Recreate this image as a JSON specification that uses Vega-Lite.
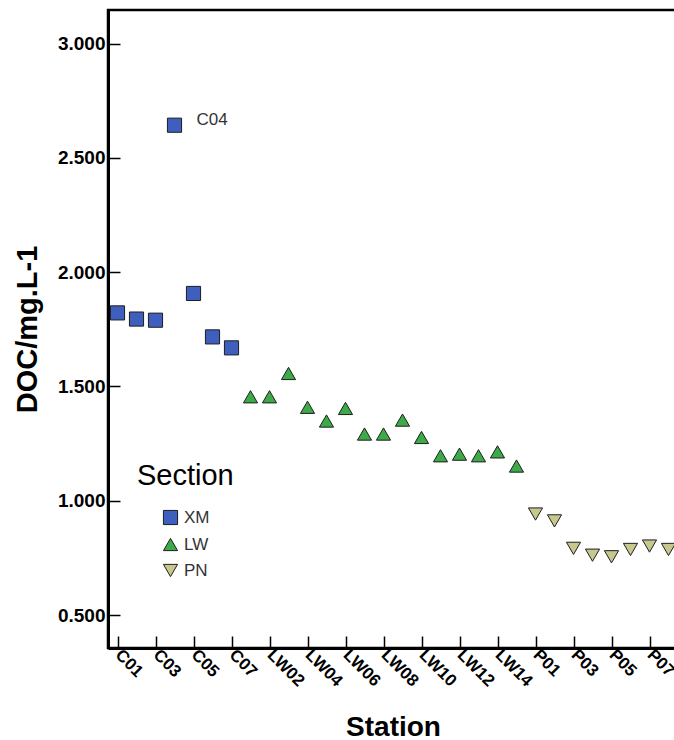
{
  "$schema": "https://vega.github.io/schema/vega-lite/v6.json",
  "width": 570,
  "height": 638,
  "autosize": {"type": "none"},
  "padding": {"left": 108, "top": 10, "right": 0, "bottom": 92},
  "background": "white",
  "config": {
    "font": "Liberation Sans",
    "view": {"stroke": "black", "strokeWidth": 2.5},
    "axis": {"grid": false}
  },
  "data": {
    "values": [
      {"station": "C01", "section": "XM", "doc": 1.822},
      {"station": "C02", "section": "XM", "doc": 1.795},
      {"station": "C03", "section": "XM", "doc": 1.790},
      {"station": "C04", "section": "XM", "doc": 2.643},
      {"station": "C05", "section": "XM", "doc": 1.907},
      {"station": "C06", "section": "XM", "doc": 1.717},
      {"station": "C07", "section": "XM", "doc": 1.669},
      {"station": "LW01", "section": "LW", "doc": 1.455},
      {"station": "LW02", "section": "LW", "doc": 1.455},
      {"station": "LW03", "section": "LW", "doc": 1.557},
      {"station": "LW04", "section": "LW", "doc": 1.409},
      {"station": "LW05", "section": "LW", "doc": 1.349},
      {"station": "LW06", "section": "LW", "doc": 1.404},
      {"station": "LW07", "section": "LW", "doc": 1.292},
      {"station": "LW08", "section": "LW", "doc": 1.292},
      {"station": "LW09", "section": "LW", "doc": 1.353},
      {"station": "LW10", "section": "LW", "doc": 1.277},
      {"station": "LW11", "section": "LW", "doc": 1.197},
      {"station": "LW12", "section": "LW", "doc": 1.204},
      {"station": "LW13", "section": "LW", "doc": 1.197},
      {"station": "LW14", "section": "LW", "doc": 1.214},
      {"station": "LW15", "section": "LW", "doc": 1.152},
      {"station": "P01", "section": "PN", "doc": 0.942},
      {"station": "P02", "section": "PN", "doc": 0.912},
      {"station": "P03", "section": "PN", "doc": 0.792},
      {"station": "P04", "section": "PN", "doc": 0.762},
      {"station": "P05", "section": "PN", "doc": 0.755},
      {"station": "P06", "section": "PN", "doc": 0.787},
      {"station": "P07", "section": "PN", "doc": 0.802},
      {"station": "P08", "section": "PN", "doc": 0.787}
    ]
  },
  "encoding": {
    "x": {
      "field": "station",
      "type": "ordinal",
      "scale": {
        "type": "point",
        "padding": 0.5,
        "domain": ["C01","C02","C03","C04","C05","C06","C07","LW01","LW02","LW03","LW04","LW05","LW06","LW07","LW08","LW09","LW10","LW11","LW12","LW13","LW14","LW15","P01","P02","P03","P04","P05","P06","P07","P08"]
      },
      "axis": {
        "title": "Station",
        "values": ["C01","C03","C05","C07","LW02","LW04","LW06","LW08","LW10","LW12","LW14","P01","P03","P05","P07"],
        "labelAngle": 45,
        "labelAlign": "left",
        "labelBaseline": "middle",
        "labelFontSize": 17,
        "labelFontWeight": "bold",
        "labelColor": "black",
        "labelPadding": 16,
        "tickSize": -12,
        "tickColor": "black",
        "tickWidth": 1.5,
        "domainColor": "black",
        "domainWidth": 3,
        "titleFontSize": 28,
        "titleFontWeight": "bold",
        "titleColor": "black",
        "titleY": 87,
        "titleBaseline": "alphabetic"
      }
    },
    "y": {
      "field": "doc",
      "type": "quantitative",
      "scale": {"domain": [0.356, 3.147], "nice": false, "zero": false},
      "axis": {
        "title": "DOC/mg.L-1",
        "values": [0.5, 1.0, 1.5, 2.0, 2.5, 3.0],
        "format": ".3f",
        "labelFontSize": 19,
        "labelFontWeight": "bold",
        "labelColor": "black",
        "labelPadding": 15,
        "tickSize": -12,
        "tickColor": "black",
        "tickWidth": 1.5,
        "domainColor": "black",
        "domainWidth": 3,
        "titleFontSize": 29,
        "titleFontWeight": "bold",
        "titleColor": "black",
        "titleX": -81,
        "titleY": 319,
        "titleAlign": "center",
        "titleBaseline": "middle",
        "titleAngle": -90
      }
    }
  },
  "layer": [
    {
      "mark": {"type": "point", "filled": true, "opacity": 1, "stroke": "#1e1e1e", "strokeWidth": 1, "size": 200},
      "encoding": {
        "color": {
          "field": "section",
          "type": "nominal",
          "scale": {"domain": ["XM", "LW", "PN"], "range": ["#3f5fbf", "#3daa4a", "#c6c88e"]},
          "legend": {
            "title": "Section",
            "orient": "none",
            "legendX": 29,
            "legendY": 452,
            "titleFontSize": 29,
            "titleFontWeight": "normal",
            "titleColor": "black",
            "titlePadding": 18,
            "labelFontSize": 17,
            "labelColor": "#333333",
            "symbolOffset": 25,
            "symbolSize": 200,
            "symbolStrokeColor": "#1e1e1e",
            "symbolStrokeWidth": 1,
            "rowPadding": 8,
            "labelOffset": 5
          }
        },
        "shape": {
          "field": "section",
          "type": "nominal",
          "scale": {"domain": ["XM", "LW", "PN"], "range": ["square", "triangle-up", "triangle-down"]},
          "legend": null
        }
      }
    },
    {
      "transform": [{"filter": "datum.station === 'C04'"}],
      "mark": {"type": "text", "align": "left", "baseline": "middle", "dx": 22, "dy": -5, "fontSize": 17, "color": "#333333"},
      "encoding": {"text": {"field": "station"}}
    }
  ]
}
